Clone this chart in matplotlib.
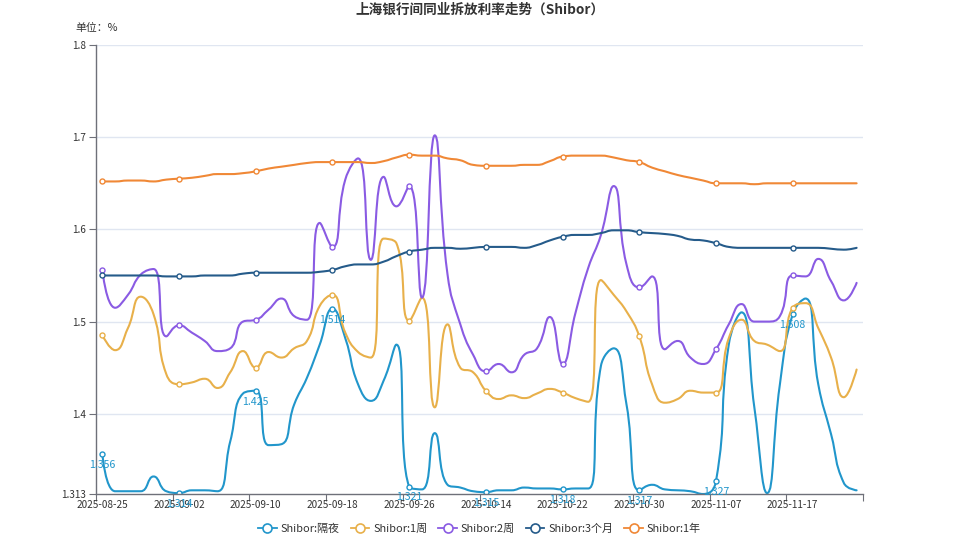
import numpy as np
import matplotlib
matplotlib.use('Agg')
import matplotlib.pyplot as plt
from matplotlib.path import Path
from matplotlib.patches import PathPatch
from matplotlib.lines import Line2D

plt.rcParams['font.family'] = ['Noto Sans CJK SC', 'DejaVu Sans']

title = '上海银行间同业拆放利率走势（Shibor）'
unit_label = '单位：%'

dates = ['2025-08-25', '2025-08-26', '2025-08-27', '2025-08-28', '2025-08-29',
         '2025-09-01', '2025-09-02', '2025-09-03', '2025-09-04', '2025-09-05',
         '2025-09-08', '2025-09-09', '2025-09-10', '2025-09-11', '2025-09-12',
         '2025-09-15', '2025-09-16', '2025-09-17', '2025-09-18', '2025-09-19',
         '2025-09-22', '2025-09-23', '2025-09-24', '2025-09-25', '2025-09-26',
         '2025-09-29', '2025-09-30', '2025-10-09', '2025-10-10', '2025-10-13',
         '2025-10-14', '2025-10-15', '2025-10-16', '2025-10-17', '2025-10-20',
         '2025-10-21', '2025-10-22', '2025-10-23', '2025-10-24', '2025-10-27',
         '2025-10-28', '2025-10-29', '2025-10-30', '2025-10-31', '2025-11-03',
         '2025-11-04', '2025-11-05', '2025-11-06', '2025-11-07', '2025-11-10',
         '2025-11-11', '2025-11-12', '2025-11-13', '2025-11-14', '2025-11-17',
         '2025-11-18', '2025-11-19', '2025-11-20', '2025-11-21', '2025-11-24']

overnight = [1.356, 1.316, 1.316, 1.316, 1.332, 1.316, 1.314, 1.317, 1.317, 1.316,
             1.370, 1.422, 1.425, 1.366, 1.367, 1.410, 1.439, 1.475, 1.514, 1.482,
             1.432, 1.414, 1.436, 1.475, 1.321, 1.318, 1.379, 1.323, 1.320, 1.316,
             1.315, 1.317, 1.317, 1.320, 1.319, 1.319, 1.318, 1.319, 1.319, 1.452,
             1.471, 1.410, 1.317, 1.323, 1.318, 1.317, 1.316, 1.313, 1.327, 1.475,
             1.510, 1.407, 1.314, 1.432, 1.508, 1.525, 1.432, 1.378, 1.325, 1.317]

week1 = [1.485, 1.469, 1.493, 1.527, 1.508, 1.443, 1.432, 1.434, 1.438, 1.428,
         1.445, 1.468, 1.450, 1.467, 1.461, 1.471, 1.479, 1.517, 1.529, 1.488,
         1.467, 1.461, 1.590, 1.585, 1.501, 1.526, 1.407, 1.497, 1.450, 1.445,
         1.425, 1.416, 1.420, 1.417, 1.422, 1.427, 1.423, 1.417, 1.413, 1.545,
         1.529, 1.511, 1.484, 1.432, 1.412, 1.416, 1.425, 1.423, 1.423, 1.482,
         1.502, 1.479, 1.475, 1.468, 1.515, 1.520, 1.493, 1.461, 1.418, 1.448]

week2 = [1.556, 1.515, 1.529, 1.551, 1.557, 1.484, 1.496, 1.488, 1.479, 1.468,
         1.471, 1.500, 1.502, 1.513, 1.525, 1.506, 1.502, 1.607, 1.581, 1.654,
         1.677, 1.567, 1.657, 1.625, 1.647, 1.526, 1.702, 1.551, 1.497, 1.464,
         1.446, 1.454, 1.445, 1.464, 1.471, 1.505, 1.454, 1.509, 1.558, 1.594,
         1.647, 1.562, 1.537, 1.549, 1.470, 1.479, 1.461, 1.454, 1.470, 1.497,
         1.519, 1.500, 1.500, 1.506, 1.550, 1.549, 1.568, 1.544, 1.523, 1.542]

month3 = [1.550, 1.550, 1.550, 1.550, 1.550, 1.549, 1.549, 1.549, 1.550, 1.550,
          1.550, 1.552, 1.553, 1.553, 1.553, 1.553, 1.553, 1.554, 1.556, 1.560,
          1.562, 1.562, 1.565, 1.571, 1.576, 1.578, 1.580, 1.580, 1.579, 1.580,
          1.581, 1.581, 1.581, 1.580, 1.583, 1.588, 1.592, 1.594, 1.594, 1.596,
          1.599, 1.599, 1.597, 1.596, 1.595, 1.593, 1.589, 1.588, 1.585, 1.581,
          1.580, 1.580, 1.580, 1.580, 1.580, 1.580, 1.580, 1.579, 1.578, 1.580]

year1 = [1.652, 1.652, 1.653, 1.653, 1.652, 1.654, 1.655, 1.656, 1.658, 1.660,
         1.660, 1.661, 1.663, 1.666, 1.668, 1.670, 1.672, 1.673, 1.673, 1.673,
         1.673, 1.672, 1.674, 1.678, 1.681, 1.680, 1.680, 1.677, 1.675, 1.670,
         1.669, 1.669, 1.669, 1.670, 1.670, 1.674, 1.679, 1.680, 1.680, 1.680,
         1.678, 1.675, 1.673, 1.667, 1.663, 1.659, 1.656, 1.653, 1.650, 1.650,
         1.650, 1.649, 1.650, 1.650, 1.650, 1.650, 1.650, 1.650, 1.650, 1.650]

series_names = ['Shibor:隔夜', 'Shibor:1周', 'Shibor:2周', 'Shibor:3个月', 'Shibor:1年']
series_values = [overnight, week1, week2, month3, year1]
colors = ['#2196CB', '#E8B04A', '#8A5BE3', '#255B8A', '#F08836']

y_ticks = [1.313, 1.4, 1.5, 1.6, 1.7, 1.8]
y_tick_labels = ['1.313', '1.4', '1.5', '1.6', '1.7', '1.8']
label_step = 6

W, H = 959, 539
fig = plt.figure(figsize=(W / 100, H / 100), dpi=100)
ax = fig.add_axes([96 / W, 1 - 494 / H, (863 - 96) / W, (494 - 45) / H])

n = len(dates)
ymin, ymax = y_ticks[0], y_ticks[-1]
ax.set_xlim(-0.5, n - 0.5)
ax.set_ylim(ymin, ymax)

# pixel scales for smoothing (same metric as the renderer)
ax_w_px = (863 - 96)
ax_h_px = (494 - 45)
sx = ax_w_px / n
sy = ax_h_px / (ymax - ymin)


def smooth_path(xs, ys, smooth=0.5):
    px = np.asarray(xs, float) * sx
    py = np.asarray(ys, float) * sy
    m = len(px)
    verts = [(px[0], py[0])]
    codes = [Path.MOVETO]
    cpx0, cpy0 = px[0], py[0]
    for k in range(1, m):
        x, y = px[k], py[k]
        if k + 1 < m:
            prevX, prevY = px[k - 1], py[k - 1]
            nextX, nextY = px[k + 1], py[k + 1]
            vx = nextX - prevX
            vy = nextY - prevY
            lp = np.hypot(x - prevX, y - prevY)
            ln = np.hypot(nextX - x, nextY - y)
            r = ln / (ln + lp)
            cpx1 = x + vx * smooth * r
            cpy1 = y + vy * smooth * r
            cpx1 = min(cpx1, max(nextX, x)); cpy1 = min(cpy1, max(nextY, y))
            cpx1 = max(cpx1, min(nextX, x)); cpy1 = max(cpy1, min(nextY, y))
            vx = cpx1 - x; vy = cpy1 - y
            ncx0 = x - vx * lp / ln; ncy0 = y - vy * lp / ln
            ncx0 = min(ncx0, max(prevX, x)); ncy0 = min(ncy0, max(prevY, y))
            ncx0 = max(ncx0, min(prevX, x)); ncy0 = max(ncy0, min(prevY, y))
            vx = x - ncx0; vy = y - ncy0
            cpx1 = x + vx * ln / lp; cpy1 = y + vy * ln / lp
        else:
            ncx0, ncy0 = x, y
            cpx1, cpy1 = x, y
        verts += [(cpx0, cpy0), (ncx0, ncy0), (x, y)]
        codes += [Path.CURVE4] * 3
        cpx0, cpy0 = cpx1, cpy1
    verts = np.array(verts)
    verts[:, 0] /= sx
    verts[:, 1] /= sy
    return Path(verts, codes)


xs = np.arange(n)
grid_c = '#E0E6F1'
axis_c = '#6E7079'

for v in y_ticks[1:]:
    ax.axhline(v, color=grid_c, lw=1, zorder=0)

handles = []
for i, (name, vals, c) in enumerate(zip(series_names, series_values, colors)):
    patch = PathPatch(smooth_path(xs, vals), facecolor='none', edgecolor=c,
                      lw=1.5, zorder=2 + i, capstyle='round', joinstyle='round')
    ax.add_patch(patch)
    ax.plot(xs[::label_step], np.asarray(vals)[::label_step], 'o', ls='none',
            mfc='white', mec=c, ms=3.6, mew=1.0, zorder=2.5 + i)
    handles.append(Line2D([0], [0], color=c, lw=1.3, marker='o', ms=6.5,
                          mfc='white', mec=c, mew=1.2))

# value labels on overnight series
for i in range(0, n, label_step):
    ax.annotate(f'{overnight[i]:g}', (xs[i], overnight[i]), xytext=(0, -7.8),
                textcoords='offset points', ha='center', va='center',
                fontsize=7.6, color=colors[0], zorder=20, annotation_clip=False)

for s in ['top', 'right']:
    ax.spines[s].set_visible(False)
for s in ['left', 'bottom']:
    ax.spines[s].set_color(axis_c)
    ax.spines[s].set_linewidth(1)

ax.set_yticks(y_ticks)
ax.set_yticklabels(y_tick_labels)
tick_pos = list(np.arange(0, n, label_step) - 0.5) + [n - 0.5]
ax.set_xticks(tick_pos)
ax.set_xticklabels([])
ax.set_xticks(np.arange(0, n, label_step), minor=True)
ax.set_xticklabels([dates[i] for i in range(0, n, label_step)], minor=True)
ax.tick_params(axis='x', which='major', length=5, color=axis_c, direction='out')
ax.tick_params(axis='x', which='minor', length=0, pad=4, labelsize=7.2,
               labelcolor='#333333')
ax.tick_params(axis='y', length=5, color=axis_c, direction='out', pad=2,
               labelsize=7.2, labelcolor='#333333')

fig.text(480 / W, 1 - 10 / H, title, ha='center', va='center', fontsize=9.8,
         fontweight='bold', color='#333333')
fig.text(75 / W, 1 - 28 / H, unit_label, ha='left', va='center', fontsize=7.8,
         color='#333333')

fig.legend(handles, series_names, loc='center', bbox_to_anchor=(0.5, 1 - 529 / H),
           ncol=5, frameon=False, fontsize=7.9, handlelength=1.7,
           handletextpad=0.35, columnspacing=1.0, labelcolor='#333333')

fig.savefig('out.png', dpi=100)
